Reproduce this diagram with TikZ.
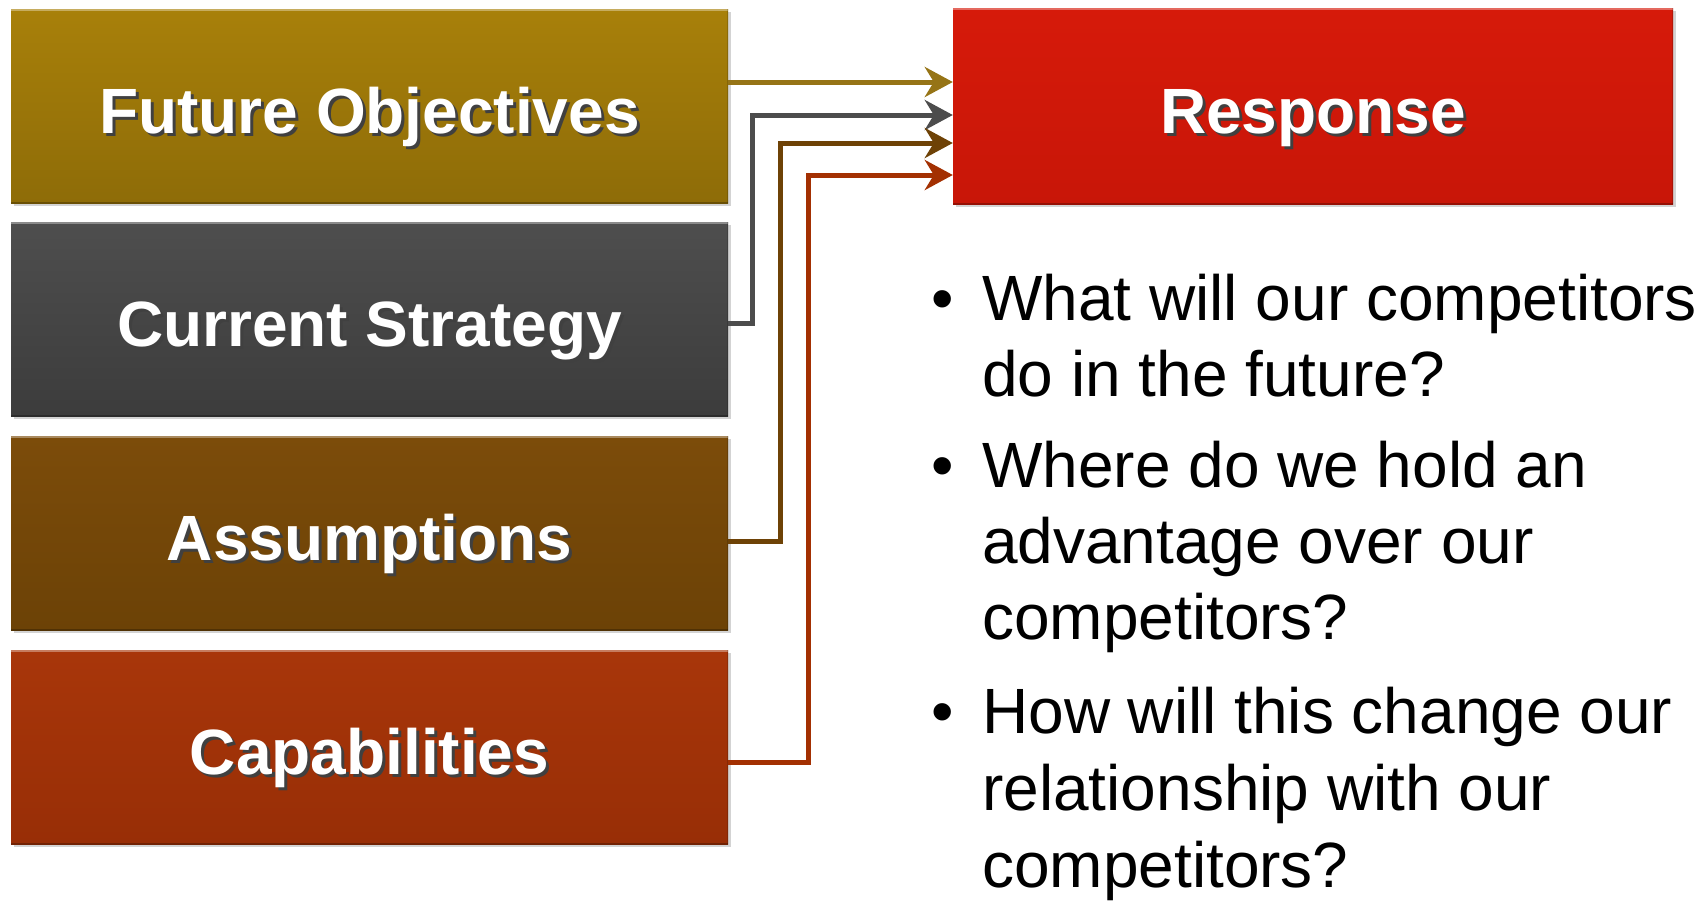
\documentclass[tikz,border=0pt]{standalone}
\usepackage{fontspec}
\setmainfont{Liberation Sans}
\usetikzlibrary{arrows.meta,shadows}

\definecolor{foTop}{RGB}{168,128,10}
\definecolor{foBot}{RGB}{142,108,8}
\definecolor{foLine}{RGB}{150,116,22}
\definecolor{csTop}{RGB}{78,78,78}
\definecolor{csBot}{RGB}{60,60,60}
\definecolor{csLine}{RGB}{76,76,76}
\definecolor{asTop}{RGB}{124,76,10}
\definecolor{asBot}{RGB}{108,66,6}
\definecolor{asLine}{RGB}{110,66,6}
\definecolor{caTop}{RGB}{168,54,10}
\definecolor{caBot}{RGB}{152,46,6}
\definecolor{caLine}{RGB}{163,48,2}
\definecolor{reTop}{RGB}{214,26,10}
\definecolor{reBot}{RGB}{200,22,8}

\newcommand{\shtext}[1]{\rlap{\kern3pt\raisebox{-3pt}{\textcolor{black!75}{#1}}}#1}

\begin{document}
\begin{tikzpicture}[
  x=1pt, y=-1pt,
  tile/.style={
    rectangle, inner sep=0pt,
    minimum width=717pt, minimum height=194pt,
    text height=54pt, text depth=0pt,
    font=\fontsize{64}{72}\selectfont\bfseries, text=white,
    drop shadow={shadow xshift=3pt, shadow yshift=-3pt, opacity=.35},
    path picture={
      \draw[white, opacity=.35, line width=3pt]
        (path picture bounding box.north west) -- (path picture bounding box.north east);
      \draw[black, opacity=.25, line width=3pt]
        (path picture bounding box.south west) -- (path picture bounding box.south east);
      \draw[black, opacity=.15, line width=3pt]
        (path picture bounding box.north east) -- (path picture bounding box.south east);
    }
  },
  arr/.style={-{Stealth[length=28pt, width=30pt, inset=9pt]}, line width=5pt},
  qline/.style={anchor=base west, inner sep=0pt, font=\fontsize{64}{76}\selectfont},
  dot/.style={anchor=base, inner sep=0pt, font=\fontsize{64}{76}\selectfont},
]
\useasboundingbox (0,0) rectangle (1707,900);

% left column
\node[tile, top color=foTop, bottom color=foBot] (fo) at (369.5,106) {\shtext{Future Objectives}};
\node[tile, top color=csTop, bottom color=csBot] (cs) at (369.5,319) {\shtext{Current Strategy}};
\node[tile, top color=asTop, bottom color=asBot] (as) at (369.5,533) {\shtext{Assumptions}};
\node[tile, top color=caTop, bottom color=caBot] (ca) at (369.5,747) {\shtext{Capabilities}};

% target
\node[tile, minimum width=720pt, minimum height=196pt, top color=reTop, bottom color=reBot] (re) at (1313,106) {\shtext{Response}};

\coordinate (t1) at ([yshift=24pt]re.west);
\coordinate (t2) at ([yshift=-9pt]re.west);
\coordinate (t3) at ([yshift=-37pt]re.west);
\coordinate (t4) at ([yshift=-69pt]re.west);

\draw[arr, foLine] (fo.east |- t1) -- (t1);
\draw[arr, csLine] ([yshift=-4pt]cs.east) -- ++(24,0) |- (t2);
\draw[arr, asLine] ([yshift=-8pt]as.east) -- ++(52,0) |- (t3);
\draw[arr, caLine] ([yshift=-15pt]ca.east) -- ++(80,0) |- (t4);

% questions
\node[dot] (d1) at (943,320) {\textbullet};
\node[qline] (q1a) at (982,320) {What will our competitors};
\node[qline] (q1b) at (982,396) {do in the future?};
\node[dot] (d2) at (943,487) {\textbullet};
\node[qline] (q2a) at (982,487) {Where do we hold an};
\node[qline] (q2b) at (982,563) {advantage over our};
\node[qline] (q2c) at (982,639) {competitors?};
\node[dot] (d3) at (943,733) {\textbullet};
\node[qline] (q3a) at (982,733) {How will this change our};
\node[qline] (q3b) at (982,810) {relationship with our};
\node[qline] (q3c) at (982,887) {competitors?};

\end{tikzpicture}
\end{document}
